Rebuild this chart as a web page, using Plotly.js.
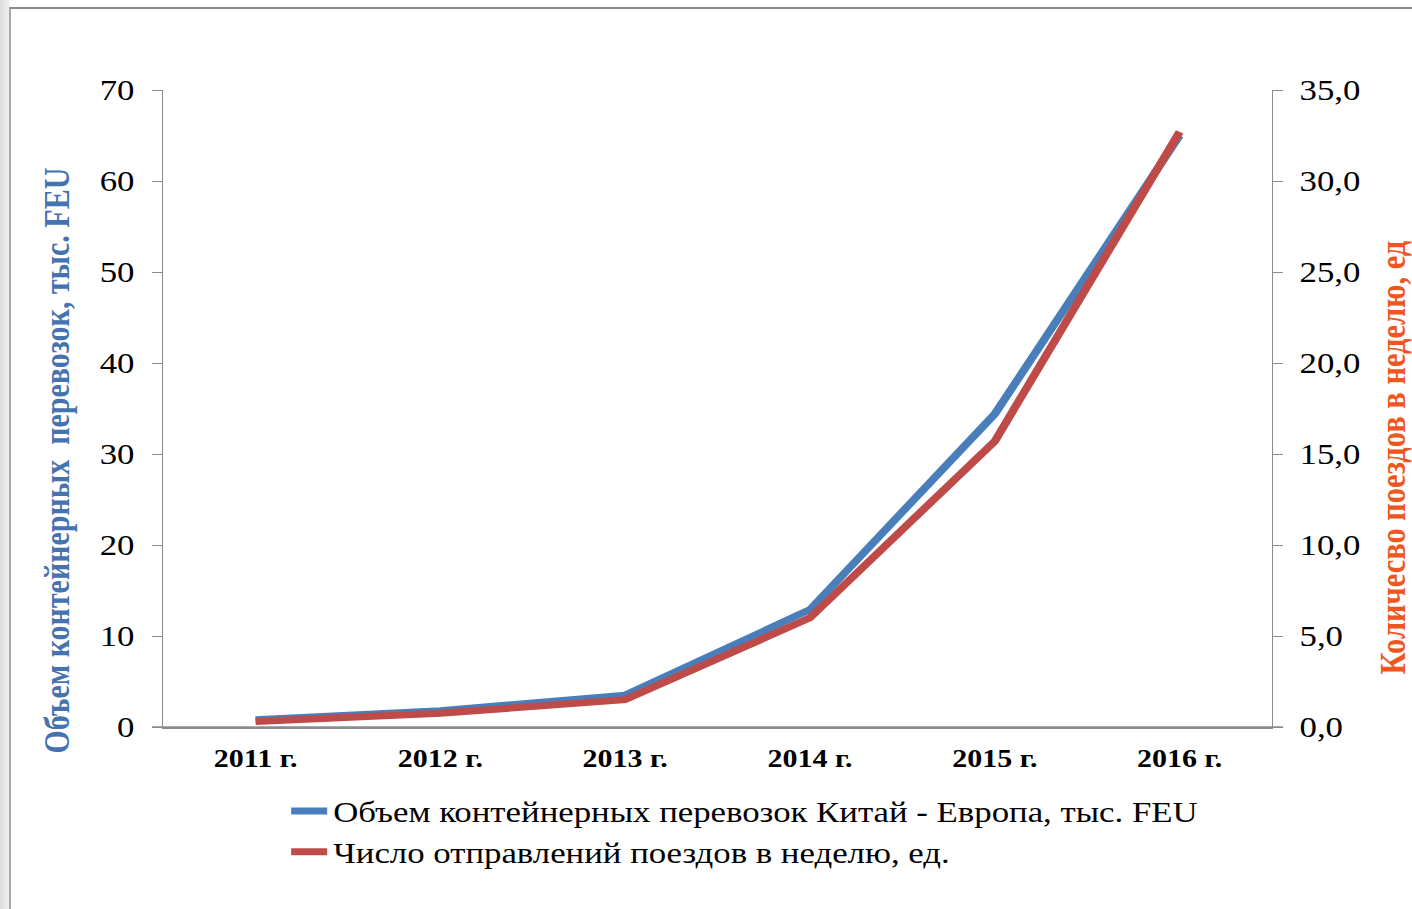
<!DOCTYPE html>
<html><head><meta charset="utf-8">
<script src="https://cdn.plot.ly/plotly-3.0.1.min.js"></script>
<style>
html,body{margin:0;padding:0;width:1412px;height:909px;overflow:hidden;background:#fff;}
#side{position:absolute;left:0;top:0;width:10px;height:909px;background:linear-gradient(to right,#dcdcdc,#f2f2f2);}
#border{position:absolute;left:9px;top:7px;width:1500px;height:1000px;border-top:2px solid #8a8a8a;border-left:2px solid #a8a8a8;background:#fff;}
#chart{position:absolute;left:0;top:0;width:1177px;height:909px;transform-origin:0 0;transform:scaleX(1.2);}
</style></head>
<body>
<div id="side"></div><div id="border"></div><div id="chart"></div>
<script>
const years = ['2011 г.', '2012 г.', '2013 г.', '2014 г.', '2015 г.', '2016 г.'];
const containerVolume = [0.8, 1.8, 3.5, 12.9, 34.4, 65.0];
const trainsPerWeek = [0.3, 0.75, 1.5, 6.0, 15.7, 32.7];
const seriesNames = ['Объем контейнерных перевозок Китай - Европа, тыс. FEU', 'Число отправлений поездов в неделю, ед.'];
const leftTitle = 'Объем контейнерных  перевозок, тыс. FEU';
const rightTitle = 'Количесво поездов в неделю, ед';

const FONT = 'Liberation Serif, Times New Roman, serif';
const traces = [
  {x: years, y: containerVolume, name: seriesNames[0], type: 'scatter', mode: 'lines',
   line: {color: '#4a7ebb', width: 7}, yaxis: 'y'},
  {x: years, y: trainsPerWeek, name: seriesNames[1], type: 'scatter', mode: 'lines',
   line: {color: '#be4b48', width: 7}, yaxis: 'y2'}
];
const layout = {
  width: 1177, height: 909,
  margin: {l: 136, r: 117, t: 90, b: 182},
  paper_bgcolor: 'rgba(0,0,0,0)', plot_bgcolor: 'rgba(0,0,0,0)',
  separators: ', ',
  font: {family: FONT, color: '#000'},
  showlegend: true,
  legend: {x: 0.110, y: -0.092, xanchor: 'left', yanchor: 'top', orientation: 'v',
           font: {family: FONT, size: 29, color: '#000'}, bgcolor: 'rgba(0,0,0,0)', tracegroupgap: 0},
  xaxis: {type: 'category', range: [-0.5, 5.5], showline: true, linecolor: '#8c8c8c', linewidth: 1.5,
          ticks: '', showgrid: false, zeroline: false, ticklabelstandoff: 8,
          tickfont: {family: FONT, size: 25, color: '#000', weight: 'bold'}},
  yaxis: {range: [0, 70], dtick: 10, ticks: 'outside', ticklen: 8, tickcolor: '#8c8c8c', tickwidth: 1.3,
          showline: true, linecolor: '#8c8c8c', linewidth: 1.3, showgrid: false, zeroline: false,
          tickfont: {family: FONT, size: 29, color: '#000'}, ticklabelstandoff: 9},
  yaxis2: {range: [0, 35], dtick: 5, tickformat: '.1f', overlaying: 'y', side: 'right',
           ticks: 'outside', ticklen: 8, tickcolor: '#8c8c8c', tickwidth: 1.3,
           showline: true, linecolor: '#8c8c8c', linewidth: 1.3, showgrid: false, zeroline: false,
           tickfont: {family: FONT, size: 29, color: '#000'}, ticklabelstandoff: 8},
  shapes: [
    {type: 'line', xref: 'paper', yref: 'paper', x0: -0.01, x1: 1.01, y0: 0, y1: 0,
     line: {color: '#8c8c8c', width: 1.5}}
  ],
  annotations: [
    {text: leftTitle, xref: 'paper', yref: 'paper', x: -0.0956, y: 0.4176, showarrow: false,
     xanchor: 'center', yanchor: 'middle',
     textangle: -90, font: {family: FONT, size: 30, color: '#4573b0', weight: 'bold'}},
    {text: rightTitle, xref: 'paper', yref: 'paper', x: 1.109, y: 0.424, showarrow: false,
     xanchor: 'center', yanchor: 'middle',
     textangle: -90, font: {family: FONT, size: 30.5, color: '#f0561d', weight: 'bold'}}
  ]
};
Plotly.newPlot('chart', traces, layout, {displayModeBar: false});
</script>
</body></html>
